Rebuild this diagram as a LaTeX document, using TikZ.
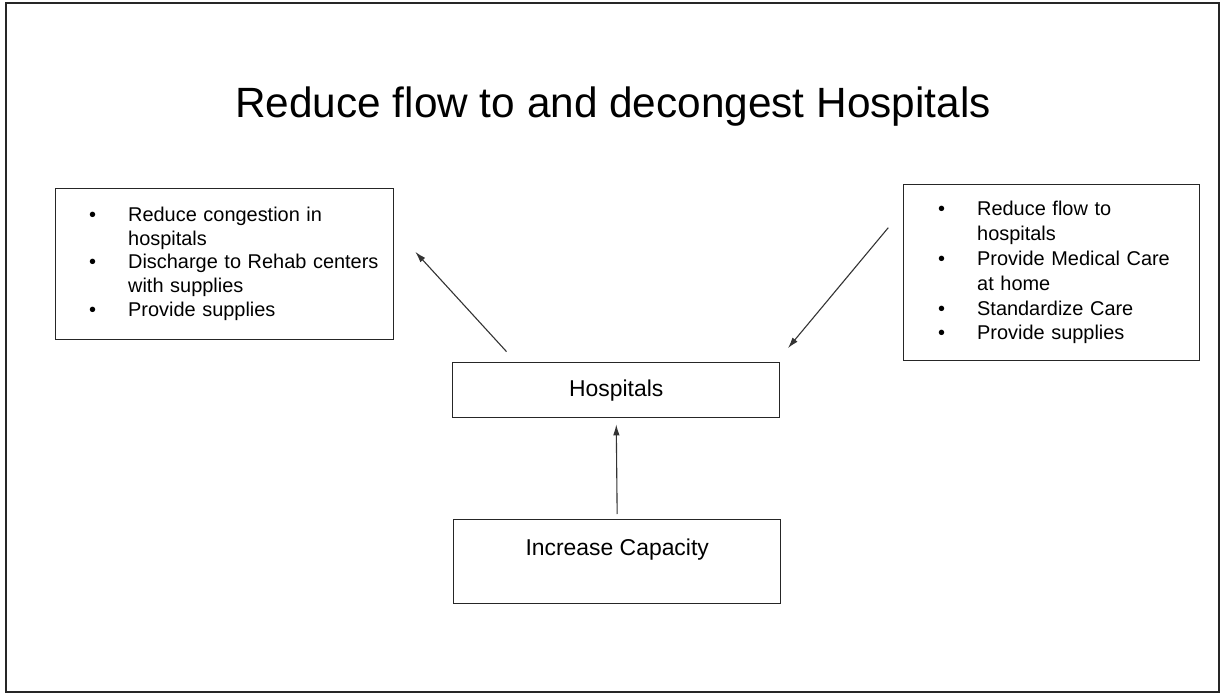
\documentclass[tikz,border=0pt]{standalone}
\usepackage{fontspec}
\setmainfont{Liberation Sans}
\usetikzlibrary{arrows.meta,calc}
\begin{document}
\begin{tikzpicture}[x=1bp,y=-1bp,
 box/.style={draw=black!85,line width=1.4bp,inner sep=0pt,anchor=north west},
 link/.style={draw=black!80,line width=1.1bp,-{Latex[length=11bp,width=6.5bp]}}]
 \useasboundingbox (0,0) rectangle (1221,695);
 \draw [black!85,line width=2.2bp] (6,3) rectangle (1219,692);
 \node [anchor=base,font=\fontsize{42.5}{48}\selectfont] (title) at (613,118) {Reduce flow to and decongest Hospitals};
 \node [box,minimum width=338bp,minimum height=151bp,inner xsep=33.5bp,text width=271bp,align=left,
  font=\fontsize{20}{24}\selectfont] (leftbox) at (55,188) {\begin{tabular}{@{}l@{\hspace{32bp}}l@{}}
  \textbullet & Reduce congestion in\\ & hospitals\\
  \textbullet & Discharge to Rehab centers\\ & with supplies\\
  \textbullet & Provide supplies\end{tabular}};
 \node [box,minimum width=296bp,minimum height=176bp,inner xsep=34.5bp,text width=227bp,align=left,
  font=\fontsize{20}{25}\selectfont] (rightbox) at (903,184) {\begin{tabular}{@{}l@{\hspace{32bp}}l@{}}
  \textbullet & Reduce flow to\\ & hospitals\\
  \textbullet & Provide Medical Care\\ & at home\\
  \textbullet & Standardize Care\\
  \textbullet & Provide supplies\end{tabular}};
 \node [box,minimum width=327bp,minimum height=55bp,font=\fontsize{23}{28}\selectfont] (hosp) at (452,362) {Hospitals};
 \node [box,minimum width=327bp,minimum height=84bp,text height=17bp,text depth=30bp,
  font=\fontsize{23}{28}\selectfont] (cap) at (453,519) {Increase Capacity};
 \draw [link,shorten <=14bp,shorten >=31bp] ($(hosp.north west)+(64,0)$) -- ($(leftbox.north east)+(0,41)$);
 \draw [link,shorten <=23bp,shorten >=18bp] ($(rightbox.north west)+(0,26)$) -- ($(hosp.north east)+(-4,0)$);
 \draw [link,shorten <=5bp,shorten >=6bp] (cap.north) -- (hosp.south);
\end{tikzpicture}
\end{document}
